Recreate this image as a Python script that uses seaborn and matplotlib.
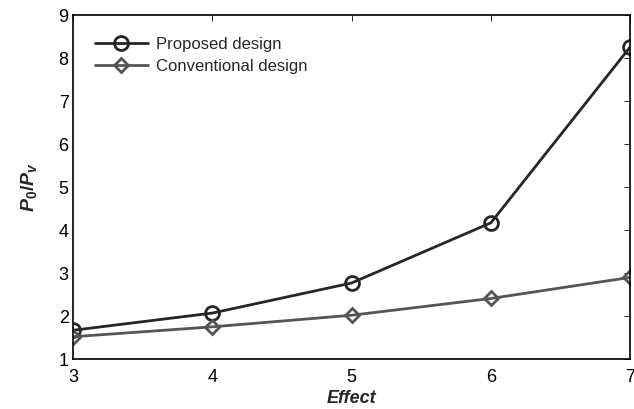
import matplotlib
matplotlib.use("Agg")
import matplotlib.pyplot as plt
import pandas as pd
import seaborn as sns

effect = [3, 4, 5, 6, 7]
proposed = [1.67, 2.07, 2.77, 4.17, 8.26]
conventional = [1.52, 1.75, 2.02, 2.41, 2.90]

df = pd.DataFrame({
    "effect": effect * 2,
    "ratio": proposed + conventional,
    "design": ["Proposed design"] * 5 + ["Conventional design"] * 5,
})

sns.set_style("white")
plt.rcParams["font.family"] = ["Liberation Sans", "DejaVu Sans"]
plt.rcParams["mathtext.fontset"] = "custom"
plt.rcParams["mathtext.it"] = "Liberation Sans:italic:bold"
plt.rcParams["mathtext.rm"] = "Liberation Sans:bold"

fig = plt.figure(figsize=(6.34, 4.09), dpi=100)
ax = fig.add_axes([0.115, 0.122, 0.879, 0.841])

colors = {"Proposed design": "#262626", "Conventional design": "#555555"}
markers = {"Proposed design": "o", "Conventional design": "D"}
for name in ["Proposed design", "Conventional design"]:
    sub = df[df["design"] == name]
    sns.lineplot(data=sub, x="effect", y="ratio", ax=ax, color=colors[name],
                 marker=markers[name], markersize=10 if name == "Proposed design" else 7.5,
                 markerfacecolor="none", markeredgecolor=colors[name],
                 markeredgewidth=2, linewidth=2, label=name)

ax.set_xlim(3, 7)
ax.set_ylim(1, 9)
ax.set_xticks(effect)
ax.set_yticks(range(1, 10))
ax.tick_params(direction="in", top=True, right=True, labelsize=13, length=4, width=0.6,
               colors="black", pad=3)
ax.tick_params(axis="x", pad=7)
for s in ax.spines.values():
    s.set_color("black")
    s.set_linewidth(1.2)

ax.set_xlabel("Effect", fontsize=13, fontweight="bold", fontstyle="italic", labelpad=3)
ax.set_ylabel("$P_0/P_v$", fontsize=14, fontweight="bold", fontstyle="italic", labelpad=14)

leg = ax.legend(loc="upper left", frameon=False, fontsize=12, handlelength=3.2,
                handletextpad=0.5, borderaxespad=0.9, labelspacing=0.45,
                borderpad=0.4)

fig.savefig("out.png", dpi=100)
